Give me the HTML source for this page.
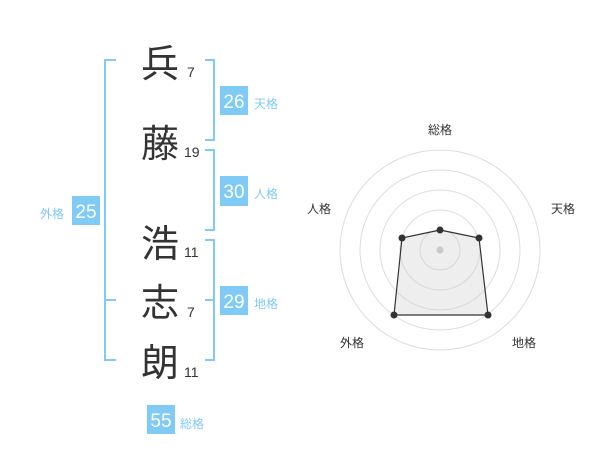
<!DOCTYPE html>
<html><head><meta charset="utf-8"><style>
html,body{margin:0;padding:0;background:#fff;}
svg{display:block;}
text{font-family:"Liberation Sans","Noto Sans CJK JP",sans-serif;}
</style></head><body>
<svg width="600" height="470" viewBox="0 0 600 470" xmlns="http://www.w3.org/2000/svg">
<g fill="none" stroke="#7fcbf5" stroke-width="2">
<polyline points="116,60 105,60 105,360 116,360"/>
<line x1="105" y1="300" x2="116" y2="300"/>
<polyline points="205,60 214,60 214,140 205,140"/>
<polyline points="205,150 214,150 214,230 205,230"/>
<polyline points="205,240 214,240 214,360 205,360"/>
<line x1="205" y1="300" x2="214" y2="300"/>
</g>
<g fill="#333" font-size="38">
<text x="141" y="77">兵</text>
<text x="141" y="157">藤</text>
<text x="141" y="257">浩</text>
<text x="141" y="316">志</text>
<text x="141" y="376">朗</text>
</g>
<g fill="#333" font-size="14">
<text x="187" y="77">7</text>
<text x="184" y="157">19</text>
<text x="184" y="257">11</text>
<text x="187" y="317">7</text>
<text x="184" y="377">11</text>
</g>
<g fill="#7fcbf5">
<rect x="220" y="86" width="28" height="29"/>
<rect x="220" y="176" width="28" height="30"/>
<rect x="220" y="286" width="28" height="29"/>
<rect x="72" y="196" width="28" height="29"/>
<rect x="147" y="405" width="28" height="29"/>
</g>
<g fill="#fff" font-size="19">
<text x="234" y="108" text-anchor="middle">26</text>
<text x="234" y="198" text-anchor="middle">30</text>
<text x="234" y="308" text-anchor="middle">29</text>
<text x="86" y="218" text-anchor="middle">25</text>
<text x="161" y="427" text-anchor="middle">55</text>
</g>
<g fill="#7fcbf5" font-size="12">
<text x="254" y="108">天格</text>
<text x="254" y="198">人格</text>
<text x="254" y="308">地格</text>
<text x="40" y="218">外格</text>
<text x="180" y="428">総格</text>
</g>
<g fill="none" stroke="#ddd" stroke-width="1">
<circle cx="440" cy="250" r="20"/>
<circle cx="440" cy="250" r="40"/>
<circle cx="440" cy="250" r="60"/>
<circle cx="440" cy="250" r="80"/>
<circle cx="440" cy="250" r="100"/>
</g>
<circle cx="440" cy="250" r="3.5" fill="#ccc"/>
<polygon points="440,230 479,238 488,315 394,315 402,238" fill="rgba(200,200,200,0.3)" stroke="#333" stroke-width="1.2"/>
<g fill="#333">
<circle cx="440" cy="230" r="3.5"/>
<circle cx="479" cy="238" r="3.5"/>
<circle cx="488" cy="315" r="3.5"/>
<circle cx="394" cy="315" r="3.5"/>
<circle cx="402" cy="238" r="3.5"/>
</g>
<g fill="#333" font-size="12" text-anchor="middle">
<text x="440" y="134">総格</text>
<text x="563" y="213">天格</text>
<text x="319" y="213">人格</text>
<text x="352" y="347">外格</text>
<text x="524" y="347">地格</text>
</g>
</svg>
</body></html>
